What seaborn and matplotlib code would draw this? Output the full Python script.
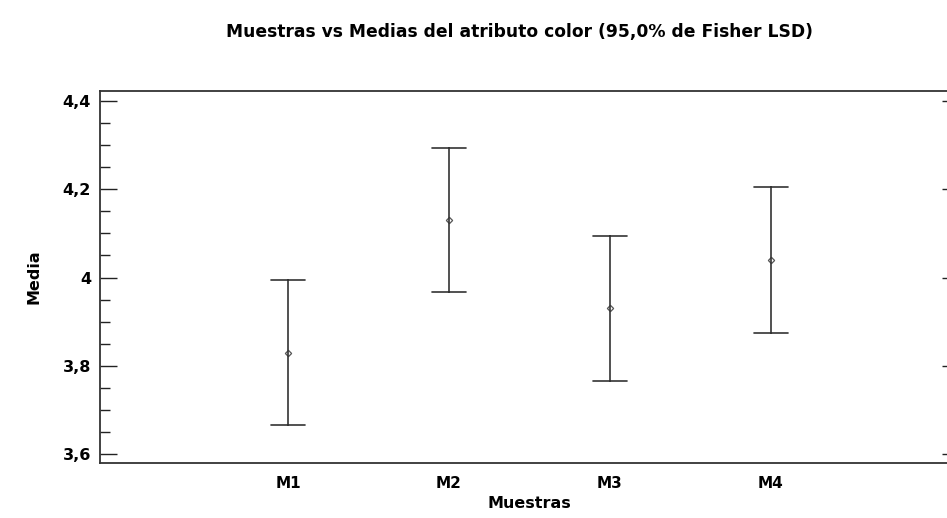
import numpy as np
import pandas as pd
import matplotlib
matplotlib.use("Agg")
import matplotlib.pyplot as plt
import seaborn as sns
from matplotlib.ticker import MultipleLocator, FuncFormatter

# Fisher LSD means and 95% interval half-widths per sample
muestras = ["M1", "M2", "M3", "M4"]
medias = [3.83, 4.13, 3.93, 4.04]
semiancho = [0.164, 0.163, 0.165, 0.165]

# Long table: lower limit, mean and upper limit for each sample
filas = []
for m, mu, h in zip(muestras, medias, semiancho):
    for v in (mu - h, mu, mu + h):
        filas.append({"Muestras": m, "Media": v})
df = pd.DataFrame(filas)

sns.set_theme(style="white")
plt.rcParams["font.family"] = ["DejaVu Sans"]
plt.rcParams["font.weight"] = "bold"
plt.rcParams["text.color"] = "black"
plt.rcParams["axes.labelcolor"] = "black"

fig = plt.figure(figsize=(9.47, 5.18), dpi=100)
W, H = 947, 518
ax = fig.add_axes([100 / W, (H - 463) / H, 859 / W, 372 / H])

color = "#333333"
sns.pointplot(
    data=df, x="Muestras", y="Media", order=muestras,
    estimator=np.median, errorbar=lambda v: (v.min(), v.max()),
    linestyle="none", capsize=0.21, color=color,
    markers="D", markersize=3.2,
    err_kws={"linewidth": 1.2}, ax=ax,
)
for ln in ax.lines:
    ln.set_markerfacecolor("white")
    ln.set_markeredgecolor("#555555")
    ln.set_markeredgewidth(0.9)

ax.set_xlim(-1.168, 4.168)
ax.set_ylim(3.5796, 4.4227)

ax.yaxis.set_major_locator(MultipleLocator(0.2))
ax.yaxis.set_minor_locator(MultipleLocator(0.05))
ax.yaxis.set_major_formatter(
    FuncFormatter(lambda v, p: ("%g" % round(v, 2)).replace(".", ","))
)
ax.tick_params(axis="y", which="major", direction="in", length=12.2, width=1.0,
               color="#222222", pad=6.5, labelsize=11.5, right=True, left=True)
ax.tick_params(axis="y", which="minor", direction="in", length=7.2, width=1.0,
               color="#222222", left=True, right=False)
ax.tick_params(axis="x", which="both", length=0, pad=9, labelsize=11)
for lab in ax.get_xticklabels() + ax.get_yticklabels():
    lab.set_fontweight("bold")
    lab.set_color("black")

for s in ax.spines.values():
    s.set_color("#333333")
    s.set_linewidth(1.3)

ax.set_xlabel("Muestras", fontsize=11.5, fontweight="bold", labelpad=4)
ax.set_ylabel("Media", fontsize=11.5, fontweight="bold", labelpad=15)
fig.text(520 / W, 1 - 32 / H,
         "Muestras vs Medias del atributo color (95,0% de Fisher LSD)",
         ha="center", va="center", fontsize=12.3, fontweight="bold")

fig.savefig("out.png", dpi=100, facecolor="white")
